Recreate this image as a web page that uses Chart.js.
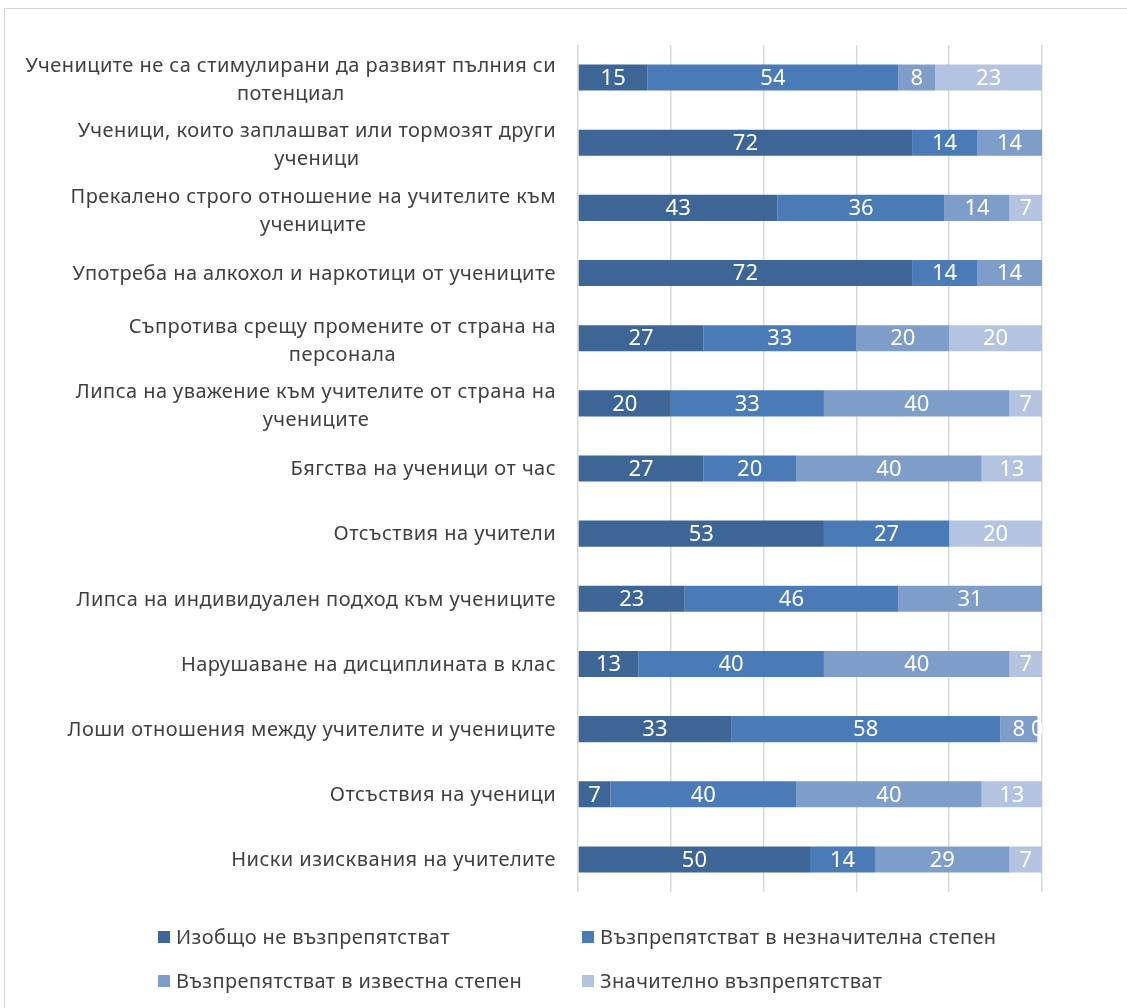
<!DOCTYPE html>
<html>
<head>
<meta charset="utf-8">
<script src="https://cdn.jsdelivr.net/npm/chart.js@4/dist/chart.umd.min.js"></script>
<style>
  html, body { margin:0; padding:0; background:#fff; }
  #wrap { position:relative; width:1127px; height:1008px; overflow:hidden; }
  #frame { position:absolute; left:4px; top:8px; width:1200px; height:1100px; border-left:1px solid #d4d4d4; border-top:1px solid #d4d4d4; }
  canvas { position:absolute; left:0; top:0; }
  .leg { position:absolute; font-family:"Noto Sans", sans-serif; font-size:20px; letter-spacing:0.4px; color:#404040; white-space:nowrap; line-height:24px; }
  .leg span.sw { display:inline-block; width:12px; height:12px; margin-right:6px; vertical-align:middle; position:relative; top:-2px; }
</style>
</head>
<body>
<div id="wrap">
  <div id="frame"></div>
  <canvas id="c" width="1127" height="1008"></canvas>
  <div id="legend"></div>
</div>
<script>
const categories = [
  ["Учениците не са стимулирани да развият пълния си", "потенциал"],
  ["Ученици, които заплашват или тормозят други", "ученици"],
  ["Прекалено строго отношение на учителите към", "учениците"],
  ["Употреба на алкохол и наркотици от учениците"],
  ["Съпротива срещу промените от страна на", "персонала"],
  ["Липса на уважение към учителите от страна на", "учениците"],
  ["Бягства на ученици от час"],
  ["Отсъствия на учители"],
  ["Липса на индивидуален подход към учениците"],
  ["Нарушаване на дисциплината в клас"],
  ["Лоши отношения между учителите и учениците"],
  ["Отсъствия на ученици"],
  ["Ниски изисквания на учителите"]
];
const seriesNames = [
  "Изобщо не възпрепятстват",
  "Възпрепятстват в незначителна степен",
  "Възпрепятстват в известна степен",
  "Значително възпрепятстват"
];
const notAtAll    = [15, 72, 43, 72, 27, 20, 27, 53, 23, 13, 33, 7, 50];
const slightly    = [54, 14, 36, 14, 33, 33, 20, 27, 46, 40, 58, 40, 14];
const someDegree  = [8, 14, 14, 14, 20, 40, 40, null, 31, 40, 8, 40, 29];
const significant = [23, null, 7, null, 20, 7, 13, 20, null, 7, 0, 13, 7];
const colors = ["#3d6596", "#4a7bb7", "#7f9dc9", "#b4c4e0"];

const catLabelPlugin = {
  id: 'catLabels',
  afterDraw(chart) {
    const ctx = chart.ctx, y = chart.scales.y;
    const right = 556, lh = 28;
    ctx.save();
    ctx.font = '20px "Noto Sans", sans-serif';
    ctx.letterSpacing = '0.45px';
    ctx.fillStyle = '#404040';
    ctx.textAlign = 'center';
    ctx.textBaseline = 'middle';
    categories.forEach((lines, i) => {
      const cy = y.getPixelForValue(i);
      const maxW = Math.max(...lines.map(l => ctx.measureText(l).width));
      const cx = right - maxW / 2;
      const top = cy - (lines.length - 1) * lh / 2 + (lines.length > 1 ? 3 : 1);
      lines.forEach((l, k) => ctx.fillText(l, cx, top + k * lh));
    });
    ctx.restore();
  }
};

const valueLabelPlugin = {
  id: 'valueLabels',
  afterDatasetsDraw(chart) {
    const ctx = chart.ctx, a = chart.chartArea;
    ctx.save();
    ctx.beginPath();
    ctx.rect(a.left, a.top, a.right - a.left, a.bottom - a.top);
    ctx.clip();
    ctx.font = '22px "Noto Sans", sans-serif';
    ctx.fillStyle = '#ffffff';
    ctx.textAlign = 'center';
    ctx.textBaseline = 'middle';
    chart.data.datasets.forEach((ds, di) => {
      const meta = chart.getDatasetMeta(di);
      meta.data.forEach((el, i) => {
        const v = ds.data[i];
        if (v === null || v === undefined) return;
        const p = el.getProps(['x', 'y', 'base'], true);
        ctx.fillText(String(v), (p.x + p.base) / 2, p.y + 1);
      });
    });
    ctx.restore();
  }
};

new Chart(document.getElementById('c'), {
  type: 'bar',
  data: {
    labels: categories.map(c => c.join(' ')),
    datasets: [notAtAll, slightly, someDegree, significant].map((d, i) => ({
      label: seriesNames[i],
      data: d,
      backgroundColor: colors[i],
      borderWidth: 0,
      barPercentage: 0.4,
      categoryPercentage: 1.0
    }))
  },
  options: {
    indexAxis: 'y',
    responsive: false,
    animation: false,
    events: [],
    layout: { padding: { left: 0, right: 85, top: 45, bottom: 116 } },
    plugins: { legend: { display: false }, tooltip: { enabled: false } },
    scales: {
      x: {
        stacked: true, min: 0, max: 100,
        ticks: { display: false, stepSize: 20 },
        grid: { color: '#d9d9d9', lineWidth: 1.5, drawTicks: false },
        border: { display: false }
      },
      y: {
        stacked: true,
        ticks: { display: false },
        grid: { display: false },
        border: { display: false },
        afterFit(scale) { scale.width = 578; }
      }
    }
  },
  plugins: [catLabelPlugin, valueLabelPlugin]
});

// legend
const legPos = [[158, 925], [582, 925], [158, 969], [582, 969]];
const legDiv = document.getElementById('legend');
seriesNames.forEach((n, i) => {
  const d = document.createElement('div');
  d.className = 'leg';
  d.style.left = legPos[i][0] + 'px';
  d.style.top = legPos[i][1] + 'px';
  d.innerHTML = '<span class="sw" style="background:' + colors[i] + '"></span>' + n;
  legDiv.appendChild(d);
});
</script>
</body>
</html>
